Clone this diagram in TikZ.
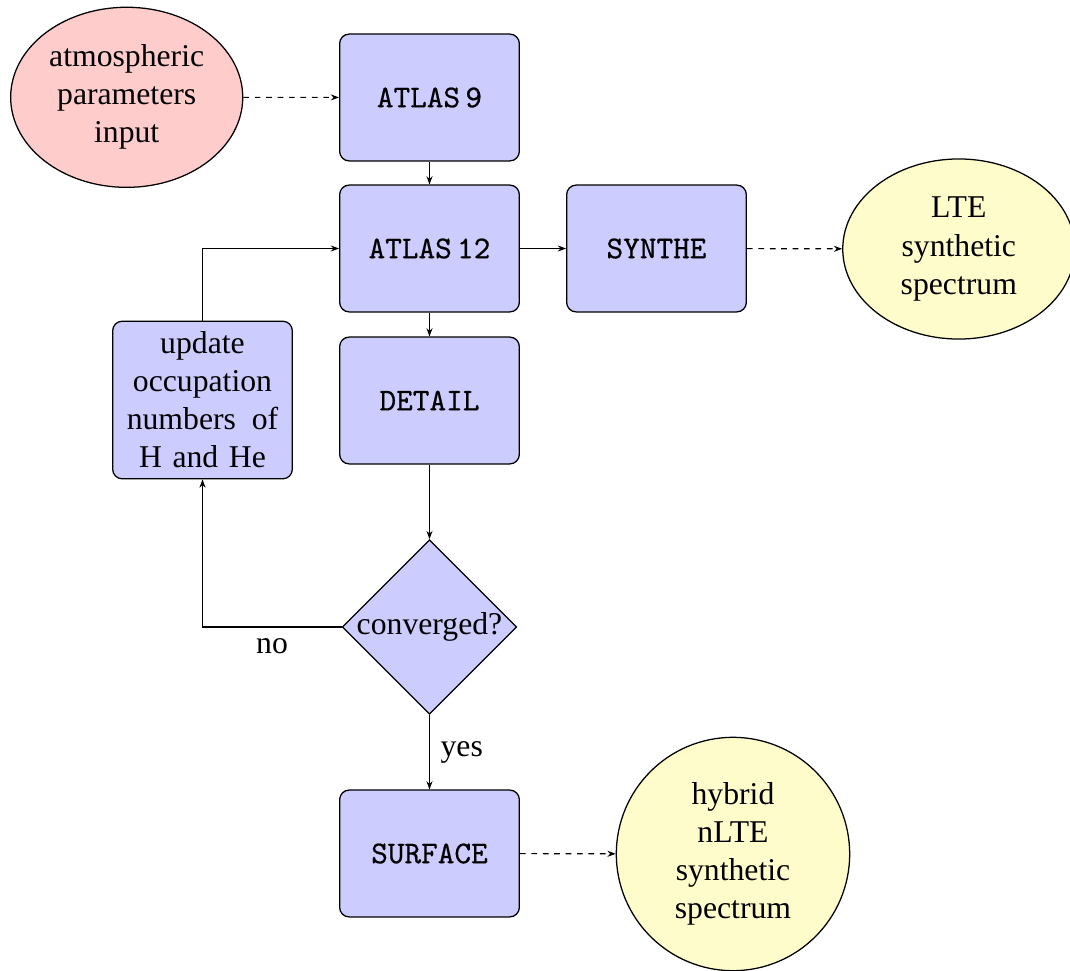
\documentclass[tikz,border=0pt]{standalone}
\usepackage{fontspec}
\setmainfont{Liberation Serif}
\newfontfamily\progfont{Latin Modern Mono}[FakeBold=0.5]
\usetikzlibrary{shapes.geometric,arrows.meta}
\tikzset{
  block/.style={rectangle, draw, fill=blue!20, rounded corners=3pt, text width=5em, align=center, minimum height=40pt, inner sep=0.3333em},
  prog/.style={block, font=\progfont},
  cloud/.style={ellipse, draw, fill=red!20, align=center, minimum width=73.2pt, minimum height=56.8pt, inner sep=0pt},
  result/.style={cloud, fill=yellow!20},
  resultc/.style={circle, draw, fill=yellow!20, align=center, minimum size=73.6pt, inner sep=0pt},
  decision/.style={diamond, draw, fill=blue!20, aspect=1, minimum width=54pt, minimum height=54pt, inner sep=0pt, align=center},
  line/.style={draw, line width=0.35pt, -{Stealth[length=2.6pt,width=1.9pt]}},
  dline/.style={line, dash pattern=on 1.8pt off 1.8pt}
}
\begin{document}
\begin{tikzpicture}[x=0.3154pt,y=-0.3154pt]
\useasboundingbox (0,0) rectangle (1070,971);
\node[cloud] (in) at (126.7,97.3) {atmospheric\\parameters\\input};
\node[prog] (a9) at (429.5,97.5) {ATLAS\,9};
\node[prog] (a12) at (429.5,248.5) {ATLAS\,12};
\node[prog] (syn) at (656.5,248.5) {SYNTHE};
\node[result] (lte) at (958.8,249) {LTE\\synthetic\\spectrum};
\node[block] (upd) at (202.5,400) {update\\occupation\\numbers~\,of\\H and He};
\node[prog] (det) at (429.5,400.5) {DETAIL};
\node[decision] (conv) at (429.5,627) {converged?};
\node[prog] (surf) at (429.5,853.5) {SURFACE};
\node[resultc] (hyb) at (733,854) {hybrid\\nLTE\\synthetic\\spectrum};

\path[dline] (in) -- (a9);
\path[line] (a9) -- (a12);
\path[line] (a12) -- (syn);
\path[dline] (syn) -- (lte);
\path[line] (a12) -- (det);
\path[line] (det) -- (conv);
\path[line] (conv) -| node[pos=0.25, below] (no) {no} (upd);
\path[line] (upd) |- (a12);
\path[line] (conv) -- node[midway, right] (yes) {yes} (surf);
\path[dline] (surf) -- (hyb);
\end{tikzpicture}
\end{document}
